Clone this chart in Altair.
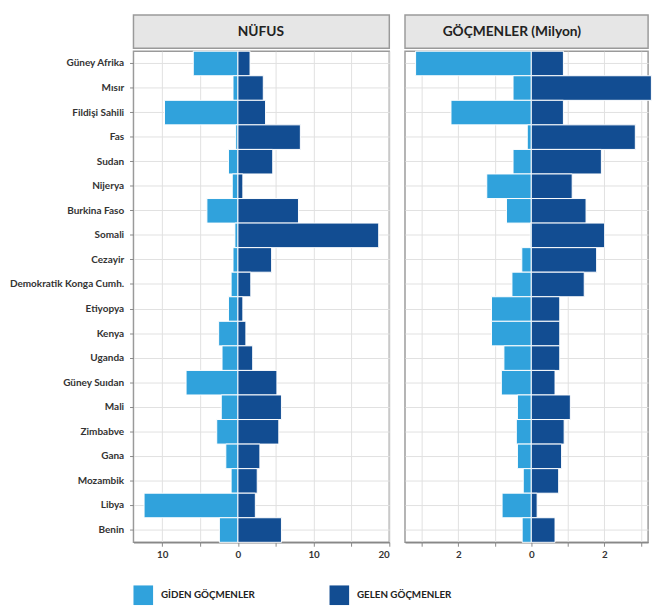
import altair as alt
import pandas as pd

ulkeler = ["Güney Afrika", "Mısır", "Fildişi Sahili", "Fas", "Sudan", "Nijerya",
           "Burkina Faso", "Somali", "Cezayir", "Demokratik Konga Cumh.", "Etiyopya",
           "Kenya", "Uganda", "Güney Suıdan", "Mali", "Zimbabve", "Gana", "Mozambik",
           "Libya", "Benin"]

nufus_giden = [5.9, 0.65, 9.7, 0.3, 1.25, 0.75, 4.1, 0.4, 0.65, 0.9, 1.25, 2.55, 2.1,
               6.85, 2.2, 2.8, 1.6, 0.9, 12.4, 2.45]
nufus_gelen = [1.6, 3.35, 3.65, 8.25, 4.6, 0.65, 8.0, 18.6, 4.45, 1.7, 0.65, 1.05, 1.95,
               5.15, 5.75, 5.4, 2.9, 2.55, 2.3, 5.75]

gocmen_giden = [3.17, 0.5, 2.2, 0.11, 0.5, 1.22, 0.68, 0.03, 0.26, 0.53, 1.09, 1.09, 0.75,
                0.82, 0.38, 0.41, 0.38, 0.22, 0.8, 0.25]
gocmen_gelen = [0.88, 3.29, 0.88, 2.85, 1.92, 1.12, 1.5, 2.01, 1.79, 1.45, 0.78, 0.78, 0.78,
                0.65, 1.07, 0.9, 0.83, 0.75, 0.16, 0.65]

tipler = ["GİDEN GÖÇMENLER", "GELEN GÖÇMENLER"]
renkler = ["#30a2dc", "#124d92"]
basliklar = ["NÜFUS", "GÖÇMENLER (Milyon)"]

FONT = "Lato"


def uzun(giden, gelen):
    rows = []
    for u, g, c in zip(ulkeler, giden, gelen):
        rows.append({"ulke": u, "tip": tipler[0], "deger": -g})
        rows.append({"ulke": u, "tip": tipler[1], "deger": c})
    return pd.DataFrame(rows)


renk = alt.Color(
    "tip:N",
    scale=alt.Scale(domain=tipler, range=renkler),
    legend=alt.Legend(
        title=None, orient="none", legendX=0, legendY=582, direction="horizontal",
        symbolType="square", symbolSize=400, symbolStrokeWidth=0, symbolOpacity=1,
        labelFont=FONT, labelFontWeight="bold", labelFontSize=10, labelColor="#222",
        labelOffset=8, columnPadding=76,
    ),
)


def baslik(text, w, tx):
    return alt.Chart(pd.DataFrame({"t": [text]})).mark_text(
        font=FONT, fontSize=14, fontWeight="bold", color="#222", align="center", baseline="middle"
    ).encode(
        text="t:N", x=alt.value(tx), y=alt.value(17)
    ).properties(
        width=w, height=34,
        view=alt.ViewBackground(fill="#e6e6e6", stroke="#9a9a9a", strokeWidth=1.5),
    )


def govde(df, w, domain, values, step, show_y):
    if show_y:
        yax = alt.Axis(title=None, labelFont=FONT, labelFontWeight="bold", labelFontSize=10.2,
                       labelColor="#333", domain=False, ticks=True, tickSize=4,
                       tickColor="#888", labelPadding=6, grid=True, gridColor="#e0e0e0",
                       minExtent=123, maxExtent=123)
    else:
        yax = alt.Axis(title=None, labels=False, ticks=False, domain=False, grid=True,
                       gridColor="#e0e0e0", minExtent=0, maxExtent=0)
    return alt.Chart(df).mark_bar(stroke="white", strokeWidth=1).encode(
        y=alt.Y("ulke:N", sort=ulkeler, axis=yax,
                scale=alt.Scale(paddingInner=0, paddingOuter=0)),
        x=alt.X("deger:Q", scale=alt.Scale(domain=domain, nice=False, zero=False),
                axis=alt.Axis(title=None, values=values,
                              labelExpr=f"datum.value % {step} == 0 ? abs(datum.value) : ''",
                              labelFont=FONT, labelFontWeight="bold", labelFontSize=10,
                              labelColor="#333", domainColor="#888", domainWidth=1.5,
                              tickColor="#888", tickSize=4, gridColor="#e0e0e0",
                              labelPadding=4)),
        color=renk,
    ).properties(width=w, height=501,
                 view=alt.ViewBackground(stroke="#9a9a9a", strokeWidth=1.5))


sol = alt.vconcat(
    baslik(basliklar[0], 261, 130),
    govde(uzun(nufus_giden, nufus_gelen), 261, [-13.8, 20], [-10, -5, 0, 5, 10, 15, 20], 10, True),
    spacing=0,
)
sag = alt.vconcat(
    baslik(basliklar[1], 248, 109),
    govde(uzun(gocmen_giden, gocmen_gelen), 248, [-3.46, 3.2], [-3, -2, -1, 0, 1, 2, 3], 2, False),
    spacing=0,
)

chart = alt.hconcat(sol, sag, spacing=13).properties(
    padding={"left": 0, "top": 0, "right": 0, "bottom": 0}
).configure(
    font=FONT, padding={"left": 0, "top": 0, "right": 0, "bottom": 0}
).resolve_scale(color="shared")

chart.save("out.html", embed_options={"renderer": "svg", "actions": False})
